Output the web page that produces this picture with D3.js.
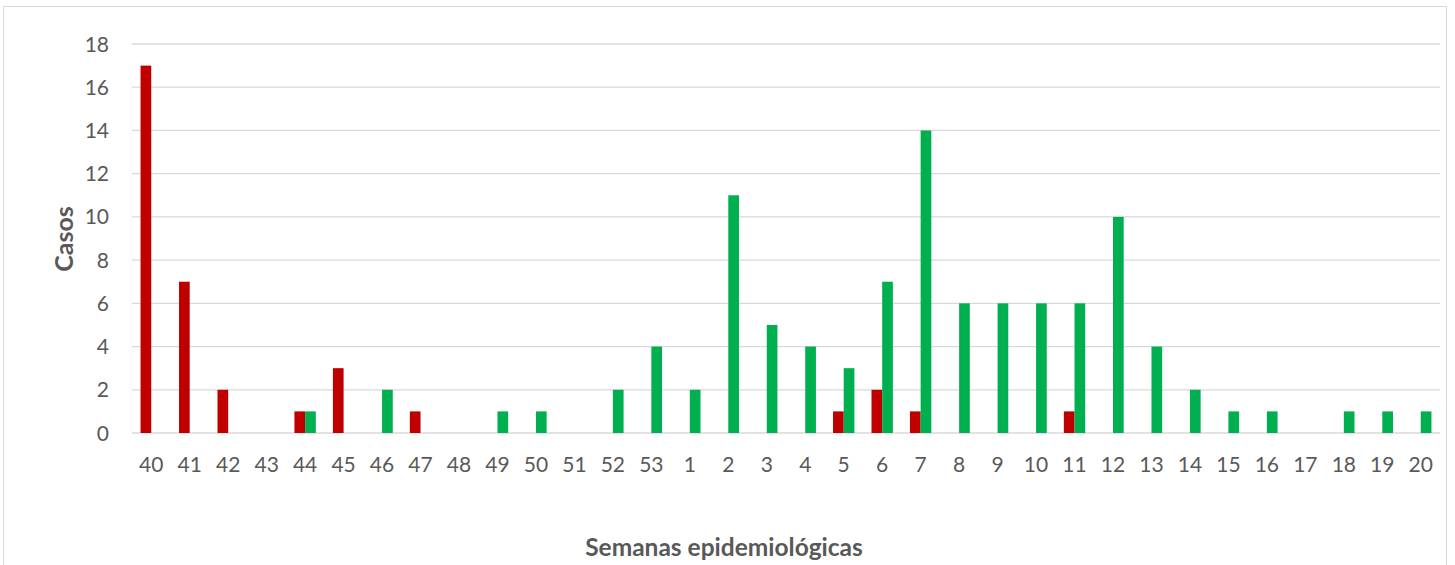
<!DOCTYPE html>
<html><head><meta charset="utf-8">
<script src="https://cdn.jsdelivr.net/npm/d3@7"></script>
<style>body{margin:0;background:#fff;}svg{display:block;}</style>
</head><body>
<svg id="c" width="1455" height="565"></svg>
<script>
const weeks = ["40","41","42","43","44","45","46","47","48","49","50","51","52","53","1","2","3","4","5","6","7","8","9","10","11","12","13","14","15","16","17","18","19","20"];
const seriesRed =   [17,7,2,0,1,3,0,1,0,0,0,0,0,0,0,0,0,0,1,2,1,0,0,0,1,0,0,0,0,0,0,0,0,0];
const seriesGreen = [0,0,0,0,1,0,2,0,0,1,1,0,2,4,2,11,5,4,3,7,14,6,6,6,6,10,4,2,1,1,0,1,1,1];
const yTicks = [0,2,4,6,8,10,12,14,16,18];
const seriesNames = ["red","green"];
const colors = {red:"#C00000", green:"#00B050"};

const svg = d3.select("#c");
const font = "Lato, 'Open Sans', sans-serif";
const L = 132, R = 1440, T = 44, B = 433;

svg.append("rect").attr("x",3.5).attr("y",6.5).attr("width",1443).attr("height",600)
  .attr("fill","none").attr("stroke","#D9D9D9").attr("stroke-width",1);

const x = d3.scaleBand().domain(weeks).range([L,R]).padding(0);
const xs = d3.scaleBand().domain(seriesNames).range([0,x.bandwidth()]).paddingInner(0).paddingOuter(0.8);
const y = d3.scaleLinear().domain([0,18]).range([B,T]);

svg.append("g").selectAll("line").data(yTicks).join("line")
  .attr("x1",L).attr("x2",R).attr("y1",d=>y(d)).attr("y2",d=>y(d))
  .attr("stroke","#D9D9D9").attr("stroke-width",1.3);

svg.append("g").selectAll("text").data(yTicks).join("text")
  .attr("x",109).attr("y",d=>y(d)).attr("dy","0.36em").attr("text-anchor","end")
  .attr("font-family",font).attr("font-size",21).attr("fill","#595959").text(d=>d);

const data = [{k:"red",v:seriesRed},{k:"green",v:seriesGreen}];
data.forEach(s=>{
  svg.append("g").selectAll("rect").data(s.v.map((v,i)=>({v,w:weeks[i]})).filter(d=>d.v>0)).join("rect")
    .attr("x",d=>x(d.w)+xs(s.k)).attr("width",xs.bandwidth())
    .attr("y",d=>y(d.v)).attr("height",d=>B-y(d.v)).attr("fill",colors[s.k]);
});

svg.append("g").selectAll("text").data(weeks).join("text")
  .attr("x",d=>x(d)+x.bandwidth()/2).attr("y",472).attr("text-anchor","middle")
  .attr("font-family",font).attr("font-size",21).attr("fill","#595959").text(d=>d);

svg.append("text").attr("transform","translate(73,239) rotate(-90)").attr("text-anchor","middle")
  .attr("font-family",font).attr("font-size",25).attr("font-weight","bold").attr("fill","#595959").text("Casos");

svg.append("text").attr("x",724).attr("y",556).attr("text-anchor","middle")
  .attr("font-family",font).attr("font-size",24.5).attr("font-weight","bold").attr("fill","#595959").text("Semanas epidemiológicas");
</script>
</body></html>
